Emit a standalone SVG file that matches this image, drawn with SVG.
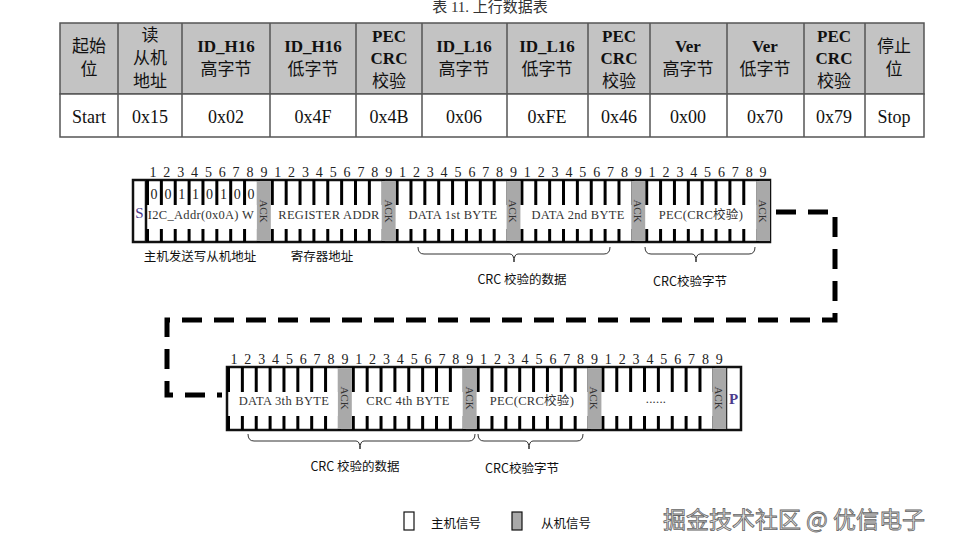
<svg xmlns="http://www.w3.org/2000/svg" width="954" height="551" viewBox="0 0 954 551">
<style>
.tb{fill:#c3c3c3;stroke:#555;stroke-width:1.5}
.tw{fill:#fff;stroke:#555;stroke-width:1.5}
.th{font-family:"Liberation Serif","Noto Sans CJK SC",serif;font-size:17px;font-weight:bold;text-anchor:middle;fill:#111}
.thc{font-family:"Noto Sans CJK SC",sans-serif;font-size:17px;text-anchor:middle;fill:#111}
.tv{font-family:"Liberation Serif",serif;font-size:18px;text-anchor:middle;fill:#111}
.box{fill:#fff;stroke:#111;stroke-width:2.5}
.ack{fill:#a9a9a9}
.tick{stroke:#000;stroke-dasharray:3 10.867;fill:none}
.num{font-family:"Liberation Serif",serif;font-size:14px;fill:#222}
.lbl{font-family:"Liberation Serif","Noto Sans CJK SC",serif;font-size:12.5px;text-anchor:middle;fill:#333;letter-spacing:0.3px}
.ackt{font-family:"Liberation Serif",serif;font-size:11px;text-anchor:middle;fill:#333}
.cn{font-family:"Noto Sans CJK SC",sans-serif;font-size:12.5px;text-anchor:middle;fill:#111}
.br{fill:none;stroke:#333;stroke-width:1}
.dash{fill:none;stroke:#000;stroke-width:5;stroke-dasharray:20 12}
</style>
<rect width="954" height="551" fill="#fff"/>
<text x="490" y="12" font-family="Liberation Serif,Noto Sans CJK SC,serif" font-size="15" text-anchor="middle" fill="#333">表 11. 上行数据表</text>
<g id="table">
<rect class="tb" x="60" y="23" width="864" height="71"/>
<rect class="tw" x="60" y="94" width="864" height="43"/>
<path d="M118 23V137M182 23V137M270 23V137M356 23V137M422 23V137M507 23V137M588 23V137M650 23V137M727 23V137M804 23V137M865 23V137" stroke="#555" stroke-width="1.5"/>
<text class="thc" x="89" y="52">起始</text><text class="thc" x="89" y="75">位</text>
<text class="thc" x="150" y="41">读</text><text class="thc" x="150" y="64">从机</text><text class="thc" x="150" y="87">地址</text>
<text class="th" x="226" y="52">ID_H16</text><text class="thc" x="226" y="75">高字节</text>
<text class="th" x="313" y="52">ID_H16</text><text class="thc" x="313" y="75">低字节</text>
<text class="th" x="389" y="42">PEC</text><text class="th" x="389" y="64">CRC</text><text class="thc" x="389" y="87">校验</text>
<text class="th" x="464" y="52">ID_L16</text><text class="thc" x="464" y="75">高字节</text>
<text class="th" x="547" y="52">ID_L16</text><text class="thc" x="547" y="75">低字节</text>
<text class="th" x="619" y="42">PEC</text><text class="th" x="619" y="64">CRC</text><text class="thc" x="619" y="87">校验</text>
<text class="th" x="688" y="52">Ver</text><text class="thc" x="688" y="75">高字节</text>
<text class="th" x="765" y="52">Ver</text><text class="thc" x="765" y="75">低字节</text>
<text class="th" x="834" y="42">PEC</text><text class="th" x="834" y="64">CRC</text><text class="thc" x="834" y="87">校验</text>
<text class="thc" x="894" y="52">停止</text><text class="thc" x="894" y="75">位</text>
<text class="tv" x="89" y="123">Start</text><text class="tv" x="150" y="123">0x15</text><text class="tv" x="226" y="123">0x02</text><text class="tv" x="313" y="123">0x4F</text><text class="tv" x="389" y="123">0x4B</text><text class="tv" x="464" y="123">0x06</text><text class="tv" x="547" y="123">0xFE</text><text class="tv" x="619" y="123">0x46</text><text class="tv" x="688" y="123">0x00</text><text class="tv" x="765" y="123">0x70</text><text class="tv" x="834" y="123">0x79</text><text class="tv" x="894" y="123">Stop</text>
</g>
<g id="connectors">
<path class="dash" d="M776 212H835V320H167V395H222"/>
</g>
<g id="row1">
<rect class="box" x="133" y="180" width="637" height="62"/>
<line x1="146" y1="180" x2="146" y2="242" stroke="#111" stroke-width="2.5"/>
<line class="tick" x1="146" y1="192.5" x2="770" y2="192.5" stroke-width="25"/>
<line class="tick" x1="146" y1="235.5" x2="770" y2="235.5" stroke-width="13"/>
<rect class="ack" x="256.9" y="181" width="13.9" height="60"/>
<rect class="ack" x="381.7" y="181" width="13.9" height="60"/>
<rect class="ack" x="506.5" y="181" width="13.9" height="60"/>
<rect class="ack" x="631.3" y="181" width="13.9" height="60"/>
<rect class="ack" x="756.1" y="181" width="13.9" height="60"/>
<text x="139.5" y="218" font-family="Liberation Serif,serif" font-size="15" text-anchor="middle" fill="#4a3a8c">S</text>
<text class="num" y="177" x="149.4 163.3 177.2 191.0 204.9 218.8 232.6 246.5 260.4 274.2 288.1 302.0 315.8 329.7 343.6 357.4 371.3 385.2 399.0 412.9 426.8 440.6 454.5 468.4 482.2 496.1 510.0 523.8 537.7 551.6 565.4 579.3 593.2 607.0 620.9 634.8 648.6 662.5 676.4 690.2 704.1 718.0 731.8 745.7 759.6">123456789123456789123456789123456789123456789</text>
<text class="num" y="199" x="150.5 164.4 178.3 192.1 206 219.9 233.7 247.6" font-size="13">00110100</text>
<rect x="148" y="205" width="107" height="22" fill="#fff"/>
<text class="lbl" x="201" y="219" letter-spacing="0">I2C_Addr(0x0A) W</text>
<text class="lbl" x="329" y="219">REGISTER ADDR</text>
<text class="lbl" x="453" y="219">DATA 1st BYTE</text>
<text class="lbl" x="578" y="219">DATA 2nd BYTE</text>
<text class="lbl" x="701" y="219">PEC(CRC校验)</text>
<text class="ackt" transform="translate(263.8 211) rotate(90)" dy="4">ACK</text>
<text class="ackt" transform="translate(388.6 211) rotate(90)" dy="4">ACK</text>
<text class="ackt" transform="translate(513.4 211) rotate(90)" dy="4">ACK</text>
<text class="ackt" transform="translate(638.2 211) rotate(90)" dy="4">ACK</text>
<text class="ackt" transform="translate(763 211) rotate(90)" dy="4">ACK</text>
<text class="cn" x="200" y="261">主机发送写从机地址</text>
<text class="cn" x="322" y="261">寄存器地址</text>
<path class="br" d="M418 247Q418 254 424 254H510Q514 254 514 262Q514 254 518 254H604Q610 254 610 247"/>
<path class="br" d="M645 247Q645 254 651 254H692Q696 254 696 262Q696 254 700 254H749Q755 254 755 247"/>
<text class="cn" x="522" y="284">CRC 校验的数据</text>
<text class="cn" x="690" y="286">CRC校验字节</text>
</g>
<g id="row2">
<rect class="box" x="227" y="367" width="514" height="63"/>
<line x1="726" y1="367" x2="726" y2="430" stroke="#111" stroke-width="2.5"/>
<line class="tick" x1="227" y1="379.5" x2="726" y2="379.5" stroke-width="25"/>
<line class="tick" x1="227" y1="423" x2="726" y2="423" stroke-width="14"/>
<rect class="ack" x="337.9" y="368" width="13.9" height="61"/>
<rect class="ack" x="462.7" y="368" width="13.9" height="61"/>
<rect class="ack" x="587.5" y="368" width="13.9" height="61"/>
<rect class="ack" x="712.3" y="368" width="13.9" height="61"/>
<text class="num" y="364" x="230.4 244.3 258.2 272.0 285.9 299.8 313.6 327.5 341.4 355.2 369.1 383.0 396.8 410.7 424.6 438.4 452.3 466.2 480.0 493.9 507.8 521.6 535.5 549.4 563.2 577.1 591.0 604.8 618.7 632.6 646.4 660.3 674.2 688.0 701.9 715.8">123456789123456789123456789123456789</text>
<text class="lbl" x="284" y="405">DATA 3th BYTE</text>
<text class="lbl" x="408" y="405">CRC 4th BYTE</text>
<text class="lbl" x="532" y="405">PEC(CRC校验)</text>
<text class="lbl" x="656" y="403">......</text>
<text class="ackt" transform="translate(344.8 398) rotate(90)" dy="4">ACK</text>
<text class="ackt" transform="translate(469.6 398) rotate(90)" dy="4">ACK</text>
<text class="ackt" transform="translate(594.4 398) rotate(90)" dy="4">ACK</text>
<text class="ackt" transform="translate(719.2 398) rotate(90)" dy="4">ACK</text>
<text x="733.5" y="404" font-family="Liberation Serif,serif" font-size="15" font-weight="bold" text-anchor="middle" fill="#4a3a8c">P</text>
<path class="br" d="M248 434Q248 441 254 441H356Q360 441 360 449Q360 441 364 441H469Q475 441 475 434"/>
<path class="br" d="M478 434Q478 441 484 441H525Q529 441 529 449Q529 441 533 441H577Q583 441 583 434"/>
<text class="cn" x="355" y="471">CRC 校验的数据</text>
<text class="cn" x="522" y="473">CRC校验字节</text>
</g>
<g id="legend">
<rect x="404" y="512" width="10" height="18" fill="#fff" stroke="#111" stroke-width="1.2"/>
<text class="cn" x="456" y="528">主机信号</text>
<rect x="512" y="512" width="10" height="18" fill="#a9a9a9" stroke="#111" stroke-width="1.2"/>
<text class="cn" x="566" y="528">从机信号</text>
<text x="794" y="528" font-family="Noto Sans CJK SC,sans-serif" font-size="23" text-anchor="middle" fill="#e0e0e0" stroke="#666" stroke-width="0.8">掘金技术社区 @ 优信电子</text>
</g>
</svg>
